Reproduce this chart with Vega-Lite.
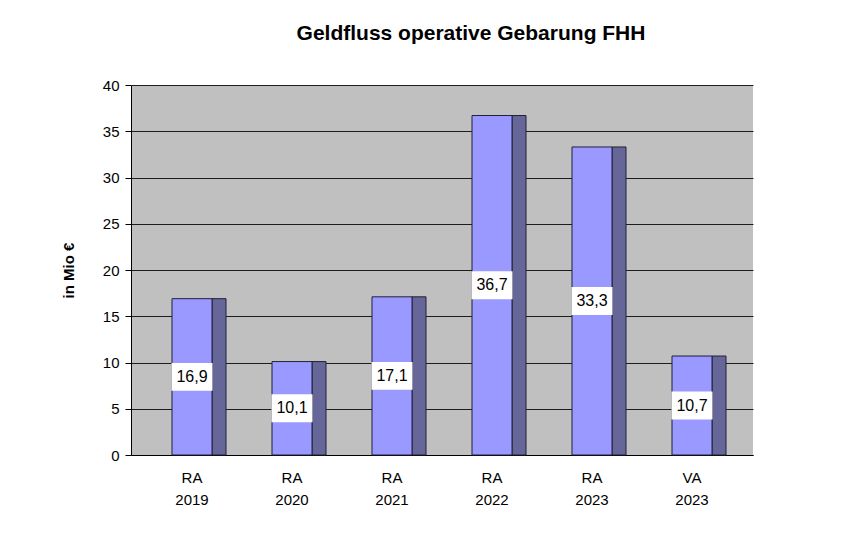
{
  "$schema": "https://vega.github.io/schema/vega-lite/v6.json",
  "width": 622,
  "height": 370,
  "autosize": {"type": "none"},
  "padding": {"left": 131, "top": 85, "right": 101, "bottom": 91},
  "background": "white",
  "title": {
    "text": "Geldfluss operative Gebarung FHH",
    "font": "Liberation Sans",
    "fontSize": 21,
    "fontWeight": "bold",
    "color": "black",
    "anchor": "middle",
    "dx": 29,
    "offset": 34
  },
  "config": {
    "view": {"fill": "#c0c0c0", "stroke": null},
    "font": "Liberation Sans"
  },
  "data": {
    "values": [
      {"kategorie": "RA 2019", "wert": 16.9, "label": "16,9"},
      {"kategorie": "RA 2020", "wert": 10.1, "label": "10,1"},
      {"kategorie": "RA 2021", "wert": 17.1, "label": "17,1"},
      {"kategorie": "RA 2022", "wert": 36.7, "label": "36,7"},
      {"kategorie": "RA 2023", "wert": 33.3, "label": "33,3"},
      {"kategorie": "VA 2023", "wert": 10.7, "label": "10,7"}
    ]
  },
  "encoding": {
    "x": {
      "field": "kategorie",
      "type": "nominal",
      "sort": null,
      "scale": {"paddingInner": 0.6, "paddingOuter": 0.41},
      "axis": {
        "title": null,
        "labelAngle": 0,
        "labelExpr": "split(datum.label, ' ')",
        "labelFontSize": 15,
        "labelColor": "black",
        "labelLineHeight": 22,
        "labelPadding": 15,
        "ticks": false,
        "domain": true,
        "domainColor": "black",
        "domainWidth": 1,
        "grid": false
      }
    }
  },
  "layer": [
    {
      "mark": {"type": "bar", "color": "#666699", "stroke": "#20203a", "strokeWidth": 1, "width": 14, "xOffset": 27},
      "encoding": {
        "y": {
          "field": "wert",
          "type": "quantitative",
          "scale": {"domain": [0, 40], "nice": false},
          "axis": {
            "values": [0, 5, 10, 15, 20, 25, 30, 35, 40],
            "title": "in Mio €",
            "titleFontSize": 15,
            "titleFontWeight": "bold",
            "titleColor": "black",
            "titlePadding": 26,
            "labelFontSize": 15,
            "labelColor": "black",
            "labelPadding": 6,
            "tickColor": "black",
            "tickSize": 6,
            "domainColor": "black",
            "grid": true,
            "gridColor": "#000000",
            "gridOpacity": 0.85,
            "gridWidth": 1
          }
        }
      }
    },
    {
      "mark": {"type": "bar", "color": "#9999ff", "stroke": "#20203a", "strokeWidth": 1},
      "encoding": {
        "y": {"field": "wert", "type": "quantitative", "scale": {"domain": [0, 40], "nice": false}, "axis": null}
      }
    },
    {
      "encoding": {
        "y": {"field": "wert", "type": "quantitative", "scale": {"domain": [0, 80], "nice": false}, "axis": null}
      },
      "layer": [
        {
          "mark": {"type": "point", "shape": "M-1,-0.68H1V0.68H-1Z", "size": 1681, "filled": true, "color": "white", "opacity": 1, "strokeWidth": 0}
        },
        {
          "mark": {"type": "text", "fontSize": 16, "color": "black", "baseline": "middle", "align": "center"},
          "encoding": {"text": {"field": "label"}}
        }
      ]
    }
  ],
  "resolve": {"scale": {"y": "independent"}}
}
